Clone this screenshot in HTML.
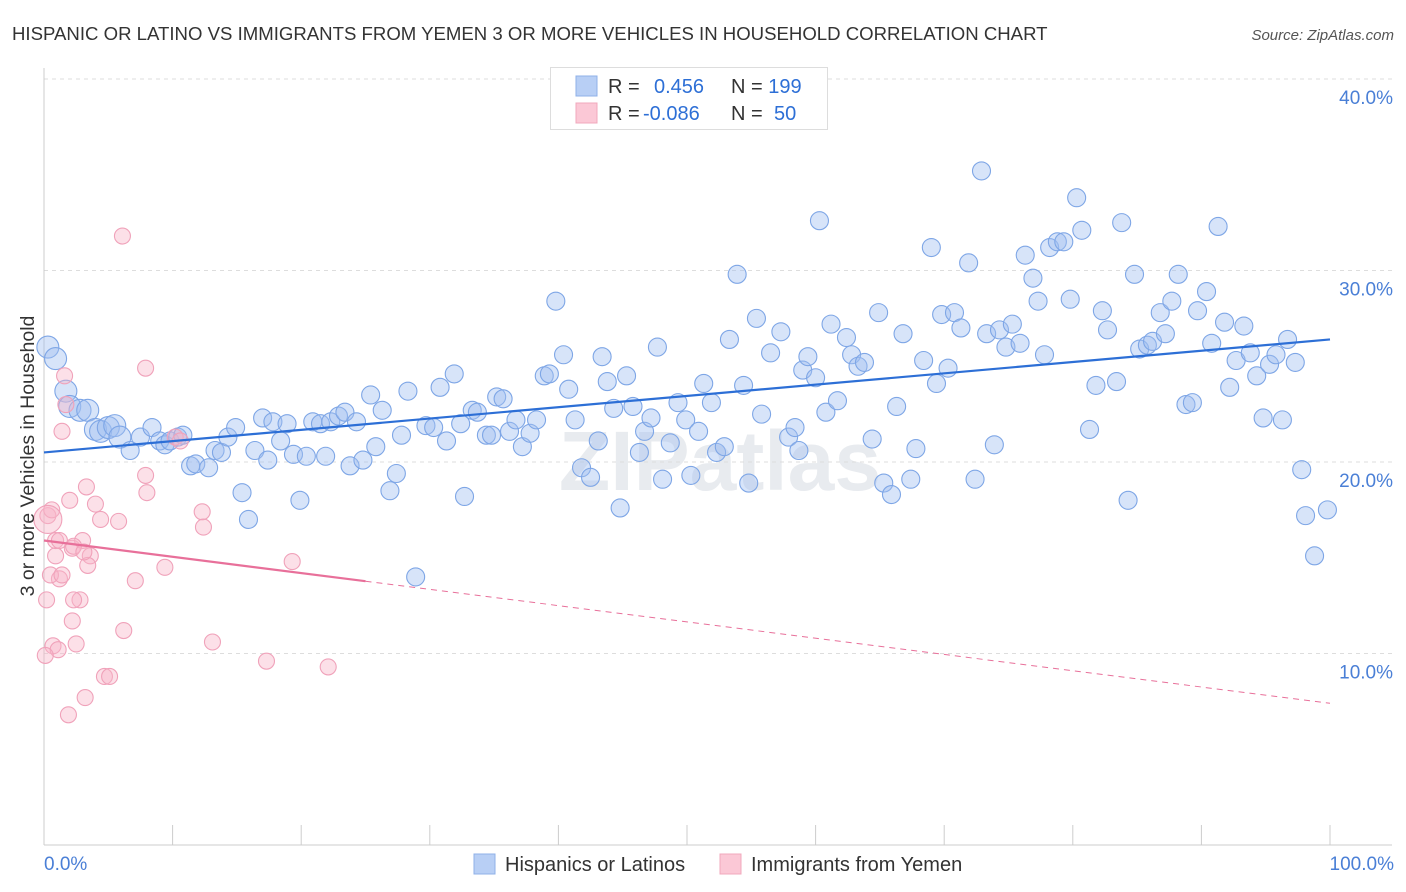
<!DOCTYPE html>
<html><head><meta charset="utf-8"><style>
body{margin:0;background:#fff;font-family:"Liberation Sans",sans-serif}
svg{display:block}
</style></head><body>
<svg id="chart" width="1406" height="892" xmlns="http://www.w3.org/2000/svg">
<text x="12" y="40" font-size="18.6" fill="#333">HISPANIC OR LATINO VS IMMIGRANTS FROM YEMEN 3 OR MORE VEHICLES IN HOUSEHOLD CORRELATION CHART</text>
<text x="1394" y="40" font-size="15" fill="#555" text-anchor="end" font-style="italic">Source: ZipAtlas.com</text>
<text x="720" y="490" font-size="84" font-weight="bold" fill="#e8ebef" text-anchor="middle">ZIPatlas</text>
<g id="grid"></g>
<g id="axes"></g>
<g id="pts"></g>
<g id="trends"></g>
<text x="0" y="0" transform="translate(34,456) rotate(-90)" font-size="19.5" fill="#333" text-anchor="middle">3 or more Vehicles in Household</text>
<text x="44" y="870" font-size="19" fill="#4a7fd6">0.0%</text>
<text x="1394" y="870" font-size="19" fill="#4a7fd6" text-anchor="end">100.0%</text>
<g>
<rect x="550.5" y="67.5" width="277" height="62" fill="#fff" stroke="#ddd"/>
<rect x="576" y="76" width="21" height="20" fill="#b8cff5" stroke="#8fb0e8"/>
<rect x="576" y="103" width="21" height="20" fill="#fbc8d6" stroke="#f0a8bc"/>
<text x="608" y="93" font-size="20" fill="#333">R = <tspan fill="#2d6fd6" x="654">0.456</tspan><tspan x="731">N = </tspan><tspan fill="#2d6fd6">199</tspan></text>
<text x="608" y="120" font-size="20" fill="#333">R = <tspan fill="#2d6fd6" x="643">-0.086</tspan><tspan x="731">N = </tspan><tspan fill="#2d6fd6" x="774">50</tspan></text>
</g>
<g>
<rect x="474" y="854" width="21" height="20" fill="#b8cff5" stroke="#8fb0e8"/>
<text x="505" y="871" font-size="20" fill="#333">Hispanics or Latinos</text>
<rect x="720" y="854" width="21" height="20" fill="#fbc8d6" stroke="#f0a8bc"/>
<text x="751" y="871" font-size="20" fill="#333">Immigrants from Yemen</text>
</g>
</svg>
<script>
const yTicks=[10,20,30,40];
const yTickLabels=["10.0%","20.0%","30.0%","40.0%"];
const blueX=[0.3,0.9,1.7,2.0,2.8,3.4,4.0,4.4,5.0,5.5,5.9,6.7,7.5,8.4,9.0,9.4,9.8,10.4,10.8,11.4,11.8,12.8,13.3,13.8,14.3,14.9,15.4,15.9,16.4,17.0,17.4,17.8,18.4,18.9,19.4,19.9,20.4,20.9,21.5,21.9,22.3,22.9,23.4,23.8,24.3,24.8,25.4,25.8,26.3,26.9,27.4,27.8,28.3,28.9,29.7,30.3,30.8,31.3,31.9,32.4,32.7,33.3,33.7,34.4,34.8,35.2,35.7,36.2,36.7,37.2,37.8,38.3,38.9,39.3,39.8,40.4,40.8,41.3,41.8,42.5,43.1,43.4,43.8,44.3,44.8,45.3,45.8,46.3,46.7,47.2,47.7,48.1,48.7,49.3,49.9,50.3,50.9,51.3,51.9,52.3,52.9,53.3,53.9,54.4,54.8,55.4,55.8,56.5,57.3,57.9,58.4,58.7,59.0,59.4,60.0,60.3,60.8,61.2,61.7,62.4,62.8,63.3,63.8,64.4,64.9,65.3,65.9,66.3,66.8,67.4,67.8,68.4,69.0,69.4,69.8,70.3,70.8,71.3,71.9,72.4,72.9,73.3,73.9,74.3,74.8,75.3,75.9,76.3,76.9,77.3,77.8,78.2,78.8,79.3,79.8,80.3,80.7,81.3,81.8,82.3,82.7,83.4,83.8,84.3,84.8,85.2,85.8,86.2,86.8,87.2,87.7,88.2,88.8,89.3,89.7,90.4,90.8,91.3,91.8,92.2,92.7,93.3,93.8,94.3,94.8,95.3,95.8,96.3,96.7,97.3,97.8,98.1,98.8,99.8];
const blueY=[26.0,25.4,23.7,22.9,22.7,22.7,21.7,21.6,21.8,21.9,21.3,20.6,21.3,21.8,21.1,20.9,21.1,21.3,21.4,19.8,19.9,19.7,20.6,20.5,21.3,21.8,18.4,17.0,20.6,22.3,20.1,22.1,21.1,22.0,20.4,18.0,20.3,22.1,22.0,20.3,22.1,22.4,22.6,19.8,22.1,20.1,23.5,20.8,22.7,18.5,19.4,21.4,23.7,14.0,21.9,21.8,23.9,21.1,24.6,22.0,18.2,22.7,22.6,21.4,21.4,23.4,23.3,21.6,22.2,20.8,21.5,22.2,24.5,24.6,28.4,25.6,23.8,22.2,19.7,19.2,21.1,25.5,24.2,22.8,17.6,24.5,22.9,20.5,21.6,22.3,26.0,19.1,21.0,23.1,22.2,19.3,21.6,24.1,23.1,20.5,20.8,26.4,29.8,24.0,18.9,27.5,22.5,25.7,26.8,21.3,21.8,20.6,24.8,25.5,24.4,32.6,22.6,27.2,23.2,26.5,25.6,25.0,25.2,21.2,27.8,18.9,18.3,22.9,26.7,19.1,20.7,25.3,31.2,24.1,27.7,24.9,27.8,27.0,30.4,19.1,35.2,26.7,20.9,26.9,26.0,27.2,26.2,30.8,29.6,28.4,25.6,31.2,31.5,31.5,28.5,33.8,32.1,21.7,24.0,27.9,26.9,24.2,32.5,18.0,29.8,25.9,26.1,26.3,27.8,26.7,28.4,29.8,23.0,23.1,27.9,28.9,26.2,32.3,27.3,23.9,25.3,27.1,25.7,24.5,22.3,25.1,25.6,22.2,26.4,25.2,19.6,17.2,15.1,17.5];
const pinkX=[0.3,0.6,0.9,1.2,1.6,1.4,1.7,2.0,2.2,1.9,2.2,2.5,2.8,3.0,3.3,3.6,3.2,4.0,3.4,0.7,1.1,0.1,6.1,7.9,5.8,7.1,7.9,8.0,9.4,10.2,10.6,12.3,12.4,13.1,17.3,19.3,22.1,4.7,5.1,6.2,2.3,0.5,0.3,0.9,1.4,3.1,4.4,1.2,0.2,2.3];
const pinkY=[17.2,17.5,15.1,13.9,24.5,21.6,23.0,18.0,15.5,6.8,11.7,10.5,12.8,15.9,18.7,15.1,7.7,17.8,14.6,10.4,10.2,9.9,31.8,24.9,16.9,13.8,19.3,18.4,14.5,21.3,21.1,17.4,16.6,10.6,9.6,14.8,9.3,8.8,8.8,11.2,15.6,14.1,17.0,15.9,14.1,15.3,17.0,15.9,12.8,12.8];
const blueTrend=[20.5,26.4];
const pinkTrend=[15.9,7.4];
const pinkSolidEnd=25;

const NS="http://www.w3.org/2000/svg";
const X=v=>44+v*12.86;
const Y=v=>845-v*19.15;
function mk(tag,attrs,parent){const e=document.createElementNS(NS,tag);for(const k in attrs)e.setAttribute(k,attrs[k]);parent.appendChild(e);return e;}
const grid=document.getElementById('grid'),axes=document.getElementById('axes'),pts=document.getElementById('pts'),tr=document.getElementById('trends');
yTicks.forEach((t,i)=>{
 const l=mk('line',{x1:44,x2:1392,y1:Y(t),y2:Y(t),stroke:'#ddd','stroke-dasharray':'4,4'},grid);
 
 
 const tx=mk('text',{x:1393,y:Y(t)+25,'font-size':19,fill:'#4a7fd6','text-anchor':'end'},grid);
 tx.textContent=yTickLabels[i];
 
 
});
const ya=mk('line',{x1:44,x2:44,y1:68,y2:845,stroke:'#ccc'},axes);


const xa=mk('line',{x1:44,x2:1392,y1:845,y2:845,stroke:'#ccc'},axes);


for(let i=0;i<=10;i++){const tk=mk('line',{x1:X(i*10),x2:X(i*10),y1:825,y2:845,stroke:'#ccc'},axes);
 
 }
blueX.forEach((x,i)=>{
 const r=x<6?11:9;
 const c=mk('circle',{cx:X(x),cy:Y(blueY[i]),r:r,fill:'rgba(160,190,240,0.42)',stroke:'#7ea6e6','stroke-width':1.1},pts);
 
 
});
pinkX.forEach((x,i)=>{
 const r=i==42?14:8;
 const c=mk('circle',{cx:X(x),cy:Y(pinkY[i]),r:r,fill:'rgba(248,180,200,0.42)',stroke:'#f0a2ba','stroke-width':1.1},pts);
 
 
});
const bl=mk('line',{x1:X(0),y1:Y(blueTrend[0]),x2:X(100),y2:Y(blueTrend[1]),stroke:'#2d6fd6','stroke-width':2.2},tr);


const pm=pinkTrend[0]+(pinkTrend[1]-pinkTrend[0])*pinkSolidEnd/100;
const ps=mk('line',{x1:X(0),y1:Y(pinkTrend[0]),x2:X(pinkSolidEnd),y2:Y(pm),stroke:'#e8709a','stroke-width':2.2},tr);


const pd=mk('line',{x1:X(pinkSolidEnd),y1:Y(pm),x2:X(100),y2:Y(pinkTrend[1]),stroke:'#e8709a','stroke-width':1,'stroke-dasharray':'6,5'},tr);


</script>
</body></html>
